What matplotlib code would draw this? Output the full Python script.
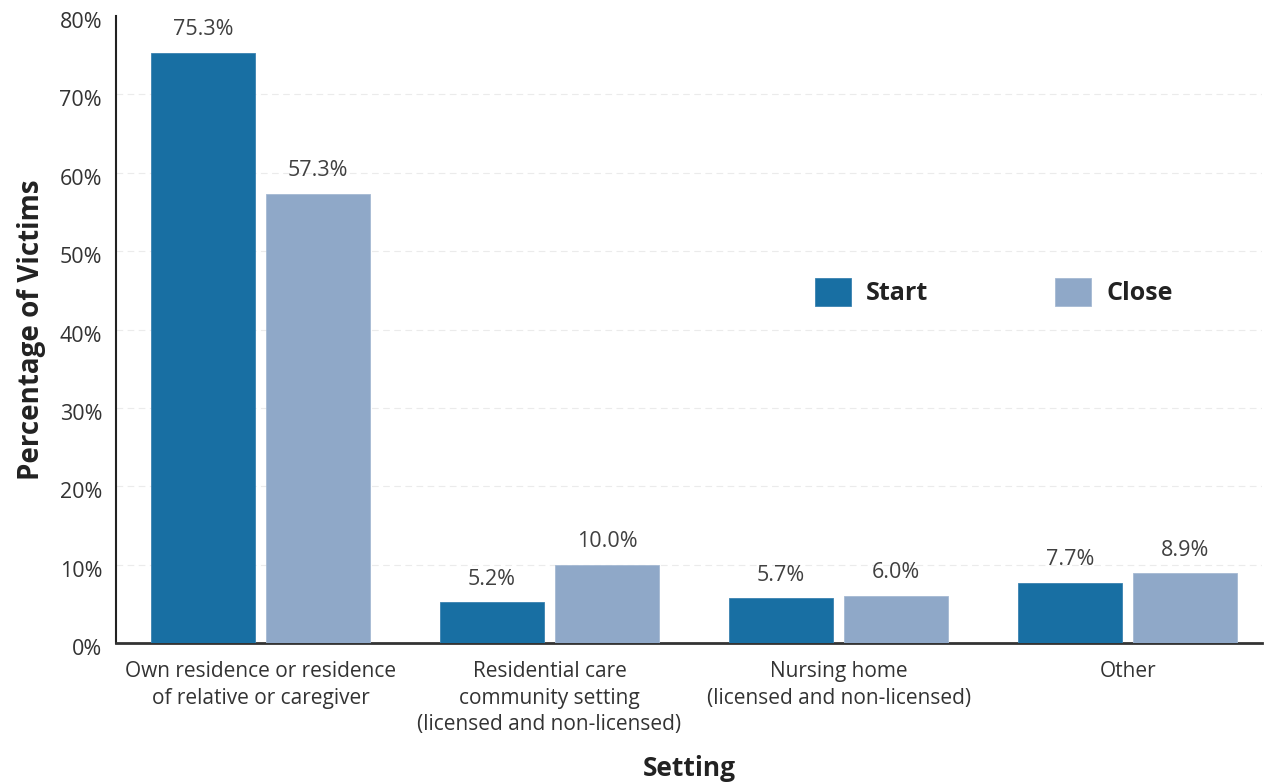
import matplotlib
matplotlib.use("Agg")
import matplotlib.pyplot as plt
import matplotlib.transforms as mtransforms
import numpy as np

categories = [
    "Own residence or residence\nof relative or caregiver",
    "Residential care\ncommunity setting\n(licensed and non-licensed)",
    "Nursing home\n(licensed and non-licensed)",
    "Other",
]
start_values = [75.3, 5.2, 5.7, 7.7]
close_values = [57.3, 10.0, 6.0, 8.9]
series_names = ["Start", "Close"]
y_ticks = [0, 10, 20, 30, 40, 50, 60, 70, 80]

plt.rcParams["font.family"] = ["Open Sans", "DejaVu Sans"]

fig = plt.figure(figsize=(12.65, 7.84), dpi=100)
ax = fig.add_axes([116 / 1265, 141 / 784, 1146 / 1265, 627 / 784])

x = np.arange(len(categories))
width = 0.36
offset = 0.199
c_start = "#186FA3"
c_close = "#8FA8C8"

b1 = ax.bar(x - offset, start_values, width, color=c_start, label=series_names[0],
            edgecolor="#3a82b0", linewidth=0.6, zorder=3)
b2 = ax.bar(x + offset, close_values, width, color=c_close, label=series_names[1],
            edgecolor="#a5b9d3", linewidth=0.6, zorder=3)

for bars, vals in ((b1, start_values), (b2, close_values)):
    for bar, v in zip(bars, vals):
        ax.annotate(f"{v:.1f}%", (bar.get_x() + bar.get_width() / 2, v),
                    xytext=(0, 9), textcoords="offset points",
                    ha="center", va="bottom", fontsize=15.5, color="#404040")

ax.set_xlim(-0.5, 3.465)
ax.set_ylim(0, 80)
ax.set_yticks(y_ticks)
ax.set_yticklabels([f"{t}%" for t in y_ticks], fontsize=15.5, color="#333333")
ax.set_xticks(x)
ax.set_xticklabels(categories, fontsize=15, color="#333333", linespacing=1.35)
ax.tick_params(axis="both", length=0)
ax.tick_params(axis="y", pad=10)
ax.tick_params(axis="x", pad=13)

# nudge the y tick labels slightly below their gridline
shift = mtransforms.ScaledTranslation(0, -4 / 100, fig.dpi_scale_trans)
for lbl in ax.get_yticklabels():
    lbl.set_transform(lbl.get_transform() + shift)

for t in y_ticks[1:-1]:
    ax.axhline(t, color="#ebebeb", linewidth=0.8, linestyle=(0, (6, 4)), zorder=1)

for s in ("top", "right"):
    ax.spines[s].set_visible(False)
ax.spines["left"].set_color("#222222")
ax.spines["left"].set_linewidth(1.5)
ax.spines["bottom"].set_color("#333333")
ax.spines["bottom"].set_linewidth(2)

ax.set_ylabel("Percentage of Victims", fontsize=20, fontweight="bold", color="#222222", labelpad=10)
ax.set_xlabel("Setting", fontsize=19, fontweight="bold", color="#222222", labelpad=14)

leg = ax.legend(loc="center", bbox_to_anchor=(0.766, 0.56), ncol=2, frameon=False,
                fontsize=18, handlelength=1.44, handleheight=1.36, columnspacing=5.1,
                handletextpad=0.6)
for txt in leg.get_texts():
    txt.set_fontweight("bold")
    txt.set_color("#222222")

fig.savefig("out.png", dpi=100)
